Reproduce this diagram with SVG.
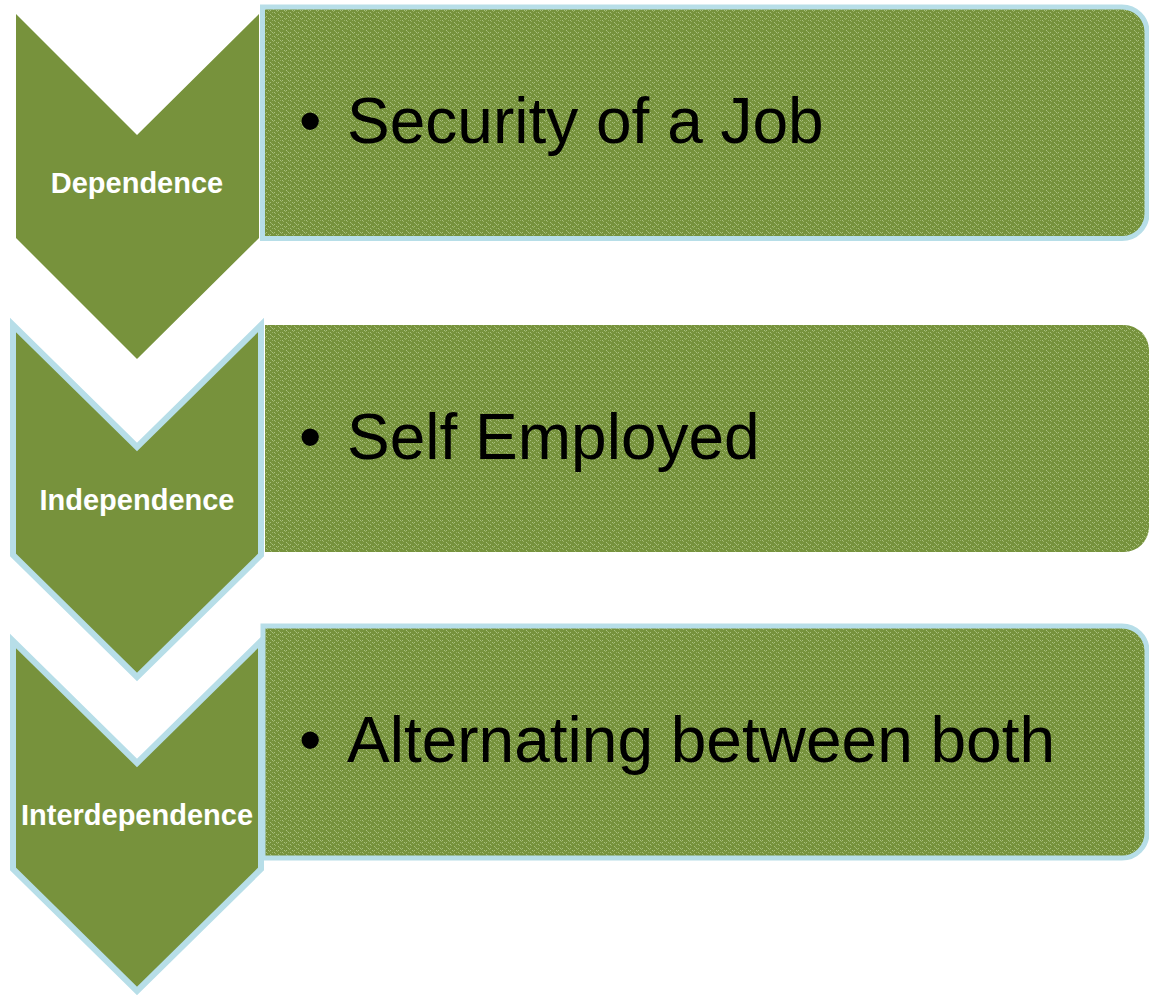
<svg xmlns="http://www.w3.org/2000/svg" width="1149" height="995" viewBox="0 0 1149 995">
<defs>
<pattern id="tex" width="8" height="8" patternUnits="userSpaceOnUse">
<rect width="8" height="8" fill="#76923C"/>
<rect x="0" y="0" width="1" height="1" fill="#A9C07E"/>
<rect x="2" y="0" width="1" height="1" fill="#A9C07E"/>
<rect x="1" y="1" width="1" height="1" fill="#98B166"/>
<rect x="4" y="2" width="1" height="1" fill="#A9C07E"/>
<rect x="6" y="2" width="1" height="1" fill="#A9C07E"/>
<rect x="5" y="3" width="1" height="1" fill="#98B166"/>
<rect x="0" y="4" width="1" height="1" fill="#98B166"/>
<rect x="2" y="4" width="1" height="1" fill="#A9C07E"/>
<rect x="3" y="5" width="1" height="1" fill="#98B166"/>
<rect x="6" y="6" width="1" height="1" fill="#A9C07E"/>
<rect x="7" y="7" width="1" height="1" fill="#98B166"/>
</pattern>
</defs>
<style>
.chev{fill:#77923C}
.bord{stroke:#B7DEE8;stroke-width:6;stroke-linejoin:miter;stroke-miterlimit:10}
.box{fill:url(#tex)}
.boxb{stroke:#B7DEE8;stroke-width:5}
.lbl{font-family:"Liberation Sans",Arial,sans-serif;font-weight:bold;font-size:29px;fill:#FFFFFF;text-anchor:middle}
.item{font-family:"Liberation Sans",Arial,sans-serif;font-size:64px;fill:#000000}
</style>
<rect width="1149" height="995" fill="#FFFFFF"/>
<g id="connectors"></g>
<g id="step1">
<path class="chev" d="M16,14 L137,135 L259,14 L259,238 L137,359 L16,238 Z"/>
<path class="box boxb" d="M262.5,7 H1122 A25,25 0 0 1 1147,32 V213.5 A25,25 0 0 1 1122,238.5 H262.5 Z"/>
<text class="lbl" x="137" y="193">Dependence</text>
<text class="item" x="299" y="143">•</text>
<text class="item" x="347" y="143">Security of a Job</text>
</g>
<g id="step2">
<path class="chev bord" d="M13,325 L137,447 L261,325 L261,555 L137,677 L13,555 Z"/>
<path class="box" d="M265,325 H1124 A25,25 0 0 1 1149,350 V527 A25,25 0 0 1 1124,552 H265 Z"/>
<text class="lbl" x="137" y="510">Independence</text>
<text class="item" x="299" y="459">•</text>
<text class="item" x="347" y="459">Self Employed</text>
</g>
<g id="step3">
<path class="chev bord" d="M13,641 L137,763 L261,641 L261,869 L137,991 L13,869 Z"/>
<path class="box boxb" d="M263,626 H1122 A25,25 0 0 1 1147,651 V833 A25,25 0 0 1 1122,858 H263 Z"/>
<text class="lbl" x="137" y="825">Interdependence</text>
<text class="item" x="299" y="762">•</text>
<text class="item" x="347" y="762">Alternating between both</text>
</g>
</svg>
